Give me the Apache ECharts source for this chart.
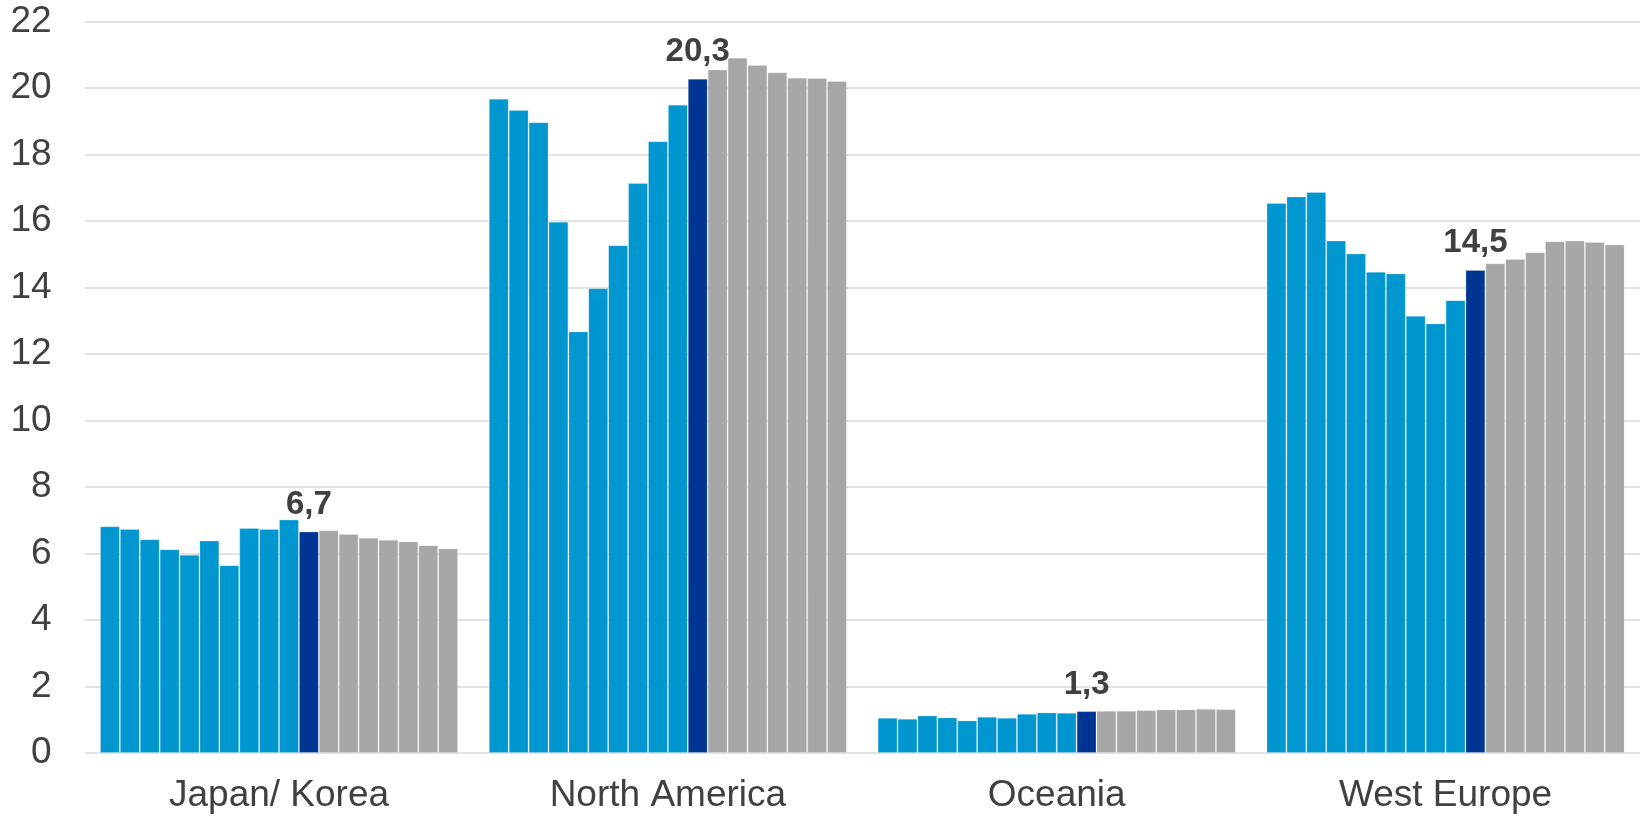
<!DOCTYPE html>
<html>
<head>
<meta charset="utf-8">
<title>Regional values</title>
<script src="https://cdn.jsdelivr.net/npm/echarts@6/dist/echarts.min.js"></script>
<style>
  html, body { margin: 0; padding: 0; background: #ffffff; }
  #chart { width: 1640px; height: 821px; }
</style>
</head>
<body>
<div id="chart"></div>
<script>
// Regions on the category axis
const regions = ['Japan/ Korea', 'North America', 'Oceania', 'West Europe'];

// Yearly values per region: 10 historic years, the highlighted year, then 7 outlook years
const japanKorea   = [6.82, 6.74, 6.43, 6.13, 5.96, 6.39, 5.65, 6.77, 6.74, 7.02, 6.66, 6.70, 6.59, 6.47, 6.41, 6.36, 6.25, 6.15];
const northAmerica = [19.68, 19.34, 18.97, 15.98, 12.68, 13.98, 15.27, 17.14, 18.40, 19.50, 20.28, 20.56, 20.91, 20.69, 20.47, 20.31, 20.30, 20.21];
const oceania      = [1.06, 1.03, 1.13, 1.07, 0.98, 1.09, 1.06, 1.18, 1.22, 1.21, 1.26, 1.27, 1.27, 1.29, 1.31, 1.31, 1.33, 1.32];
const westEurope   = [16.54, 16.74, 16.87, 15.41, 15.02, 14.47, 14.42, 13.15, 12.92, 13.62, 14.53, 14.73, 14.86, 15.06, 15.39, 15.41, 15.37, 15.29];

// Y axis ticks
const yTicks = [0, 2, 4, 6, 8, 10, 12, 14, 16, 18, 20, 22];

const HISTORIC = 10;      // number of bars before the highlighted one
const HIGHLIGHT = 10;     // index of the highlighted (labelled) bar
const FONT = "'Liberation Sans', Arial, sans-serif";

const colorHistoric = '#0096d0';
const colorHighlight = '#003594';
const colorOutlook = '#a6a6a6';

const seriesCount = japanKorea.length;
const series = [];
for (let i = 0; i < seriesCount; i++) {
  const color = i < HISTORIC ? colorHistoric : (i === HIGHLIGHT ? colorHighlight : colorOutlook);
  series.push({
    type: 'bar',
    data: [japanKorea[i], northAmerica[i], oceania[i], westEurope[i]],
    barGap: '0%',
    barCategoryGap: '7.9%',
    itemStyle: {
      color: color,
      borderColor: 'rgba(255,255,255,0.22)',
      borderWidth: 1
    },
    label: {
      show: i === HIGHLIGHT,
      position: 'top',
      distance: 10,
      color: '#404040',
      fontFamily: FONT,
      fontSize: 33,
      fontWeight: 'bold',
      formatter: p => p.value.toFixed(1).replace('.', ',')
    },
    z: i === HIGHLIGHT ? 3 : 2
  });
}

const chart = echarts.init(document.getElementById('chart'), null, { renderer: 'canvas' });
chart.setOption({
  animation: false,
  backgroundColor: '#ffffff',
  grid: {
    left: 84.6,
    right: 0,
    top: 21.5,
    bottom: 68,
    containLabel: false,
    outerBoundsMode: 'none'
  },
  xAxis: {
    type: 'category',
    data: regions,
    axisLine: { show: false },
    axisTick: { show: false },
    axisLabel: {
      color: '#404040',
      fontFamily: FONT,
      fontSize: 37,
      margin: 24
    }
  },
  yAxis: {
    type: 'value',
    min: yTicks[0],
    max: yTicks[yTicks.length - 1],
    interval: 2,
    axisLine: { show: false },
    axisTick: { show: false },
    axisLabel: {
      color: '#404040',
      fontFamily: FONT,
      fontSize: 37,
      margin: 33
    },
    splitLine: { lineStyle: { color: '#d9d9d9', width: 1.5 } }
  },
  series: series
});
</script>
</body>
</html>
